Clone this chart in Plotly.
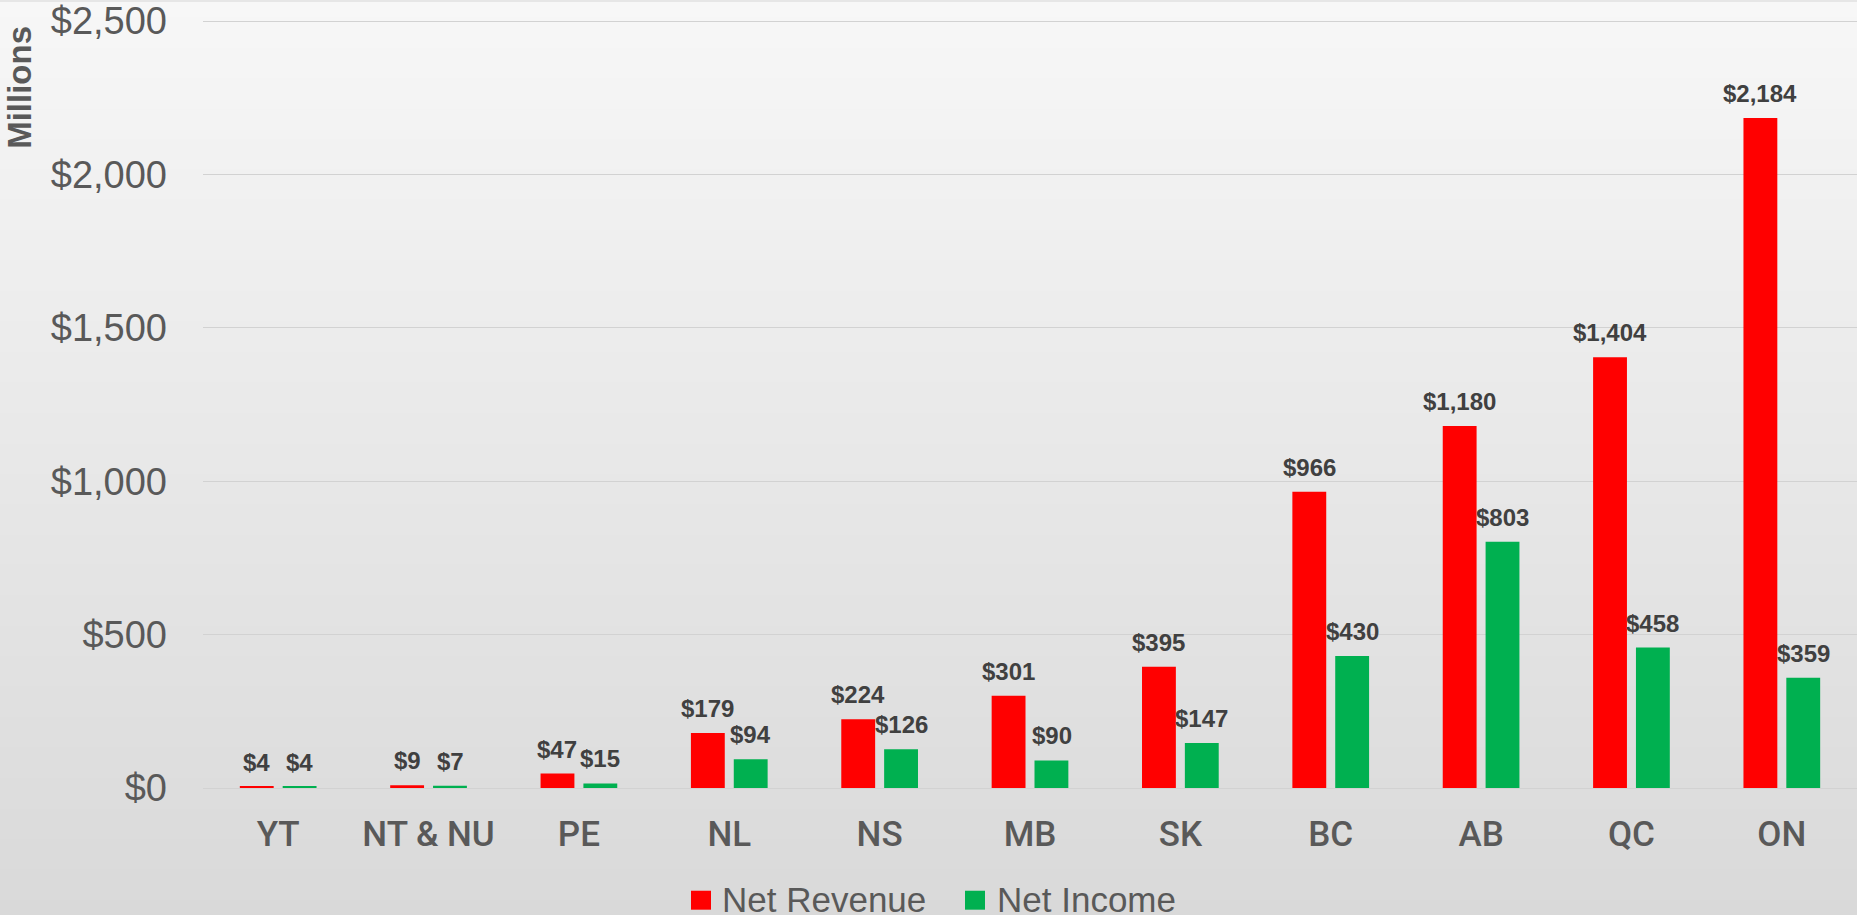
import plotly.graph_objects as go

categories = ["YT", "NT & NU", "PE", "NL", "NS", "MB", "SK", "BC", "AB", "QC", "ON"]
net_revenue = [4, 9, 47, 179, 224, 301, 395, 966, 1180, 1404, 2184]
net_income = [4, 7, 15, 94, 126, 90, 147, 430, 803, 458, 359]
series_names = ["Net Revenue", "Net Income"]
series_colors = ["#FF0000", "#00B050"]
tick_values = [0, 500, 1000, 1500, 2000, 2500]
tick_labels = ["$0", "$500", "$1,000", "$1,500", "$2,000", "$2,500"]

W, H = 1857, 915
L, R, T, B = 203, 0, 16, 127
PW, PH = W - L - R, H - T - B


def px2x(px):
    return (px - L) / PW


def py2y(py):
    return (H - B - py) / PH


fig = go.Figure()
for name, vals, col in zip(series_names, [net_revenue, net_income], series_colors):
    fig.add_trace(go.Bar(x=categories, y=vals, name=name, marker_color=col,
                         marker_line_width=0, showlegend=False))

shapes = []
# gradient background
n = 120
top = (247, 247, 247)
bot = (217, 217, 217)
for i in range(n):
    f = i / (n - 1)
    c = tuple(round(top[k] + (bot[k] - top[k]) * f) for k in range(3))
    y0p = H * i / n
    y1p = H * (i + 1) / n + 1
    shapes.append(dict(type="rect", xref="paper", yref="paper", layer="below",
                       x0=px2x(0), x1=px2x(W), y0=py2y(y1p), y1=py2y(y0p),
                       fillcolor="rgb(%d,%d,%d)" % c, line_width=0))

annotations = []
# data labels
for vals, shift in [(net_revenue, -21.5), (net_income, 21.5)]:
    for cat, v in zip(categories, vals):
        annotations.append(dict(x=cat, y=v, xref="x", yref="y", xshift=shift, yshift=9,
                                text="${:,}".format(v), showarrow=False, yanchor="bottom",
                                font=dict(family="Liberation Sans", size=24, color="#404040",
                                          weight="bold")))

# axis title
annotations.append(dict(x=px2x(20), y=py2y(86), xref="paper", yref="paper", text="<b>Millions</b>",
                        textangle=-90, showarrow=False, xanchor="center", yanchor="middle",
                        font=dict(family="Liberation Sans", size=33, color="#595959")))

# manual legend
legend_items = [(691, 720), (965, 995)]
for (sx, tx), name, col in zip(legend_items, series_names, series_colors):
    shapes.append(dict(type="rect", xref="paper", yref="paper", x0=px2x(sx), x1=px2x(sx + 20),
                       y0=py2y(910), y1=py2y(891), fillcolor=col, line_width=0, layer="above"))
    annotations.append(dict(x=px2x(tx), y=py2y(900), xref="paper", yref="paper", text=name,
                            showarrow=False, xanchor="left", yanchor="middle",
                            font=dict(family="Liberation Sans", size=35, color="#595959")))

fig.update_layout(
    width=W, height=H,
    margin=dict(l=L, r=R, t=T, b=B),
    paper_bgcolor="#e6e6e6",
    plot_bgcolor="rgba(0,0,0,0)",
    barmode="group",
    bargap=0.43,
    bargroupgap=0.21,
    shapes=shapes,
    annotations=annotations,
    showlegend=False,
    xaxis=dict(showgrid=False, showline=False, ticks="", ticklabelstandoff=22,
               tickfont=dict(family="Roboto", size=35, color="#595959", weight=500)),
    yaxis=dict(range=[0, 2510], tickvals=tick_values, ticktext=tick_labels, showline=False,
               gridcolor="#d2d2d2", gridwidth=1.3, zeroline=True, zerolinecolor="#d2d2d2",
               zerolinewidth=1.3, ticks="", ticklabelstandoff=35, ticklabeloverflow="allow",
               tickfont=dict(family="Liberation Sans", size=38, color="#595959")),
)

fig.write_html("out.html", config={"displayModeBar": False},
               post_script="document.body.style.margin='0';document.body.style.overflow='hidden';")
